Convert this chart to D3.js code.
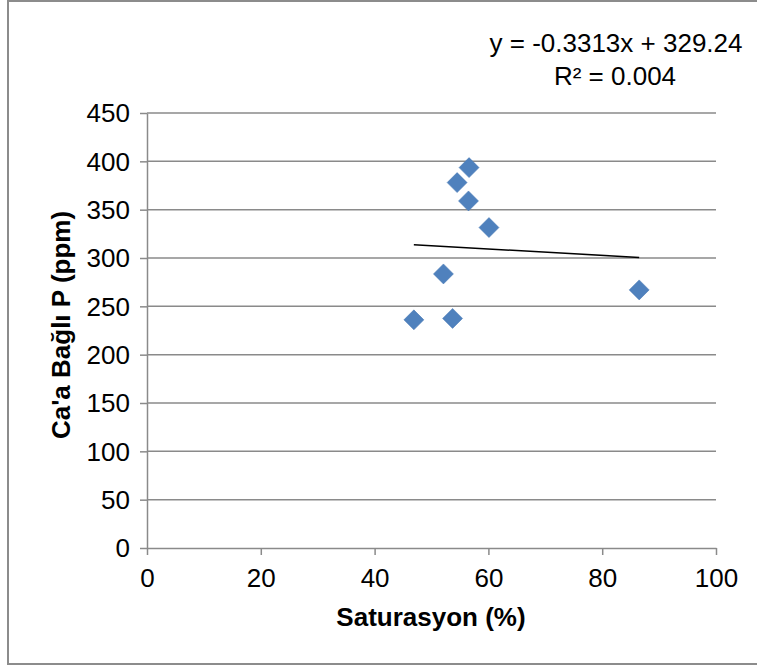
<!DOCTYPE html>
<html>
<head>
<meta charset="utf-8">
<script src="https://cdn.jsdelivr.net/npm/d3@7"></script>
<style>
  html, body { margin: 0; padding: 0; background: #fff; }
  svg { display: block; font-family: "Liberation Sans", Arial, sans-serif; }
</style>
</head>
<body>
<svg id="chart" width="757" height="666"></svg>
<script>
// Base saturation (%) vs Ca-bound phosphorus (ppm)
const saturasyon = [56.6, 54.5, 56.5, 60.1, 52.1, 46.9, 53.7, 86.5];
const caBagliP   = [393.5, 378, 359, 331.5, 283.5, 236, 237.5, 267];
const xTicks = [0, 20, 40, 60, 80, 100];
const yTicks = [0, 50, 100, 150, 200, 250, 300, 350, 400, 450];
const trendSlope = -0.3313;
const trendIntercept = 329.24;
const trendLabel = "y = -0.3313x + 329.24";
const r2Label = "R² = 0.004";

const FS = 26;
const svg = d3.select("#chart");

// outer frame
svg.append("rect")
  .attr("x", 8).attr("y", 1).attr("width", 760).attr("height", 663)
  .attr("fill", "#fff").attr("stroke", "#8c8c8c").attr("stroke-width", 2);

const x = d3.scaleLinear().domain([0, 100]).range([147, 716]);
const y = d3.scaleLinear().domain([0, 450]).range([548, 113]);

// horizontal gridlines
svg.append("g").selectAll("line").data(yTicks.filter(d => d > 0)).join("line")
  .attr("x1", x(0)).attr("x2", x(100))
  .attr("y1", d => y(d)).attr("y2", d => y(d))
  .attr("stroke", "#8a8a8a").attr("stroke-width", 1.5);

// y axis
const yAxis = svg.append("g").attr("transform", `translate(${x(0)},0)`)
  .call(d3.axisLeft(y).tickValues(yTicks).tickSize(7).tickPadding(17).tickSizeOuter(0));
// x axis
const xAxis = svg.append("g").attr("transform", `translate(0,${y(0)})`)
  .call(d3.axisBottom(x).tickValues(xTicks).tickSize(7).tickSizeOuter(0));

[yAxis, xAxis].forEach(g => {
  g.select(".domain").attr("stroke", "#8a8a8a").attr("stroke-width", 1.5);
  g.selectAll(".tick line").attr("stroke", "#8a8a8a").attr("stroke-width", 1.5);
  g.selectAll(".tick text").attr("fill", "#000").attr("font-size", FS)
    .attr("font-family", "'Liberation Sans', Arial, sans-serif");
});
yAxis.selectAll(".tick text").attr("x", -17).attr("dy", "0.34em");
xAxis.selectAll(".tick text").attr("y", 39).attr("dy", 0);

// linear trendline across the data range
const xMin = d3.min(saturasyon), xMax = d3.max(saturasyon);
svg.append("line")
  .attr("x1", x(xMin)).attr("y1", y(trendSlope * xMin + trendIntercept))
  .attr("x2", x(xMax)).attr("y2", y(trendSlope * xMax + trendIntercept))
  .attr("stroke", "#000").attr("stroke-width", 1.5);

// diamond markers
const diamond = d3.symbol().type(d3.symbolSquare).size(200);
svg.append("g").selectAll("path").data(saturasyon.map((s, i) => [s, caBagliP[i]])).join("path")
  .attr("d", diamond)
  .attr("transform", d => `translate(${x(d[0])},${y(d[1])}) rotate(45)`)
  .attr("fill", "#4f81bd").attr("stroke", "#4a7ab5").attr("stroke-width", 0.5);

// equation labels
svg.append("text").attr("x", 616).attr("y", 52).attr("text-anchor", "middle")
  .attr("font-size", FS).text(trendLabel);
svg.append("text").attr("x", 615).attr("y", 85).attr("text-anchor", "middle")
  .attr("font-size", FS).text(r2Label);

// axis titles
svg.append("text").attr("x", 431).attr("y", 626).attr("text-anchor", "middle")
  .attr("font-size", FS).attr("font-weight", "bold").text("Saturasyon (%)");
svg.append("text").attr("transform", "translate(61,325) rotate(-90)")
  .attr("text-anchor", "middle").attr("dy", "0.35em")
  .attr("font-size", FS).attr("font-weight", "bold")
  .text("Ca'a Bağlı P (ppm)");
</script>
</body>
</html>
